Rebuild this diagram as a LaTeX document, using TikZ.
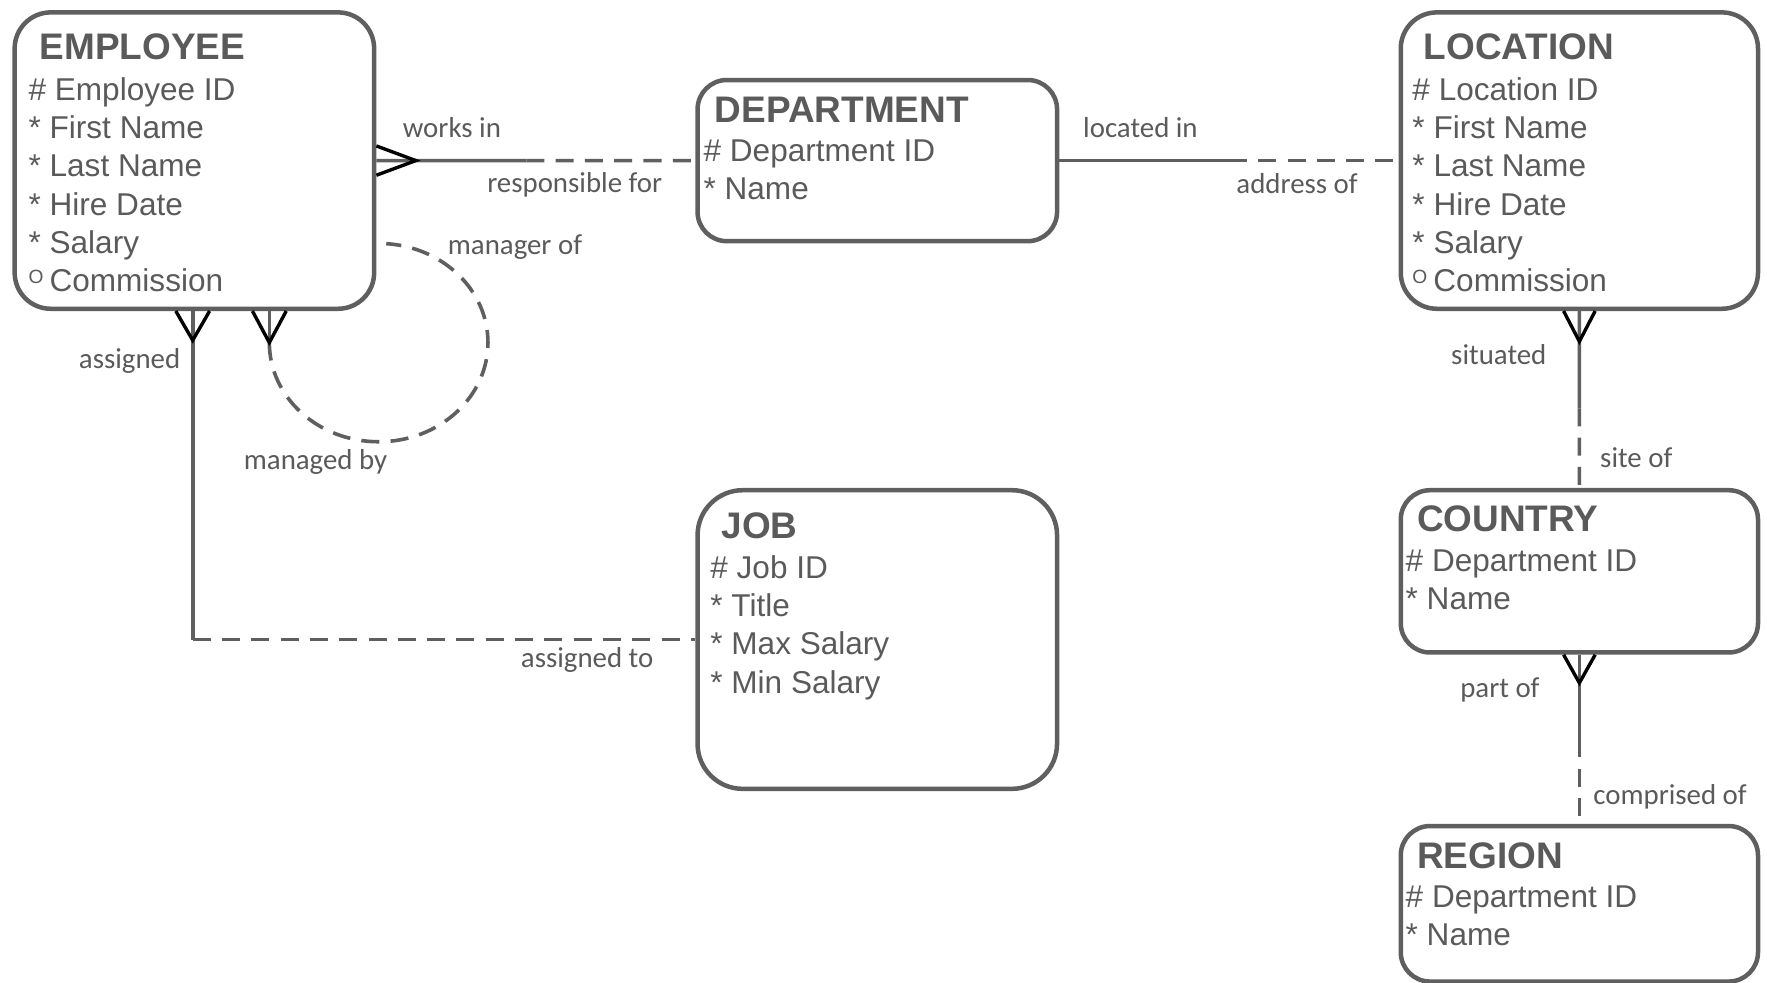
\documentclass[tikz,border=0pt]{standalone}
\usepackage{fontspec}
\setmainfont{Liberation Sans}
\newfontfamily\lblfont{Carlito}
\usepackage{tikz}
\usetikzlibrary{calc}

\definecolor{boxgray}{HTML}{5F5F5F}
\definecolor{txtgray}{HTML}{5A5A5A}
\newcommand{\optmark}{\makebox[9.3pt][l]{\raisebox{3.8pt}{\fontsize{8.5pt}{8.5pt}\selectfont O}}}

\begin{document}
\begin{tikzpicture}[
    x=0.5pt, y=-0.5pt,
    entity/.style={draw=boxgray, line width=2pt, rounded corners=16pt, anchor=north west, inner sep=0pt},
    enttitle/.style={anchor=base west, inner sep=0pt, text=txtgray, font=\fontsize{16.4pt}{19pt}\selectfont\bfseries},
    attrs/.style={anchor=base west, inner sep=0pt, align=left, text=txtgray, font=\fontsize{14pt}{17pt}\selectfont},
    lbl/.style={inner sep=0pt, text=txtgray, font=\lblfont\fontsize{12.8pt}{15pt}\selectfont},
    rel/.style={draw=boxgray, line width=1.6pt},
    reldash/.style={rel, dash pattern=on 8pt off 5pt},
    foot/.style={draw=black, line width=1.5pt}
]
\useasboundingbox (0,0) rectangle (1568,872);

% Entities (attribute nodes sit on the baseline of their last line)
\node[entity, minimum width=159.5pt, minimum height=131.5pt] (emp) at (11,9) {};
\node[enttitle] (emp-title) at (35,53) {EMPLOYEE};
\node[attrs] (emp-attr) at (25,259) {\# Employee ID\\* First Name\\* Last Name\\* Hire Date\\* Salary\\\optmark Commission};

\node[entity, rounded corners=13pt, minimum width=159.5pt, minimum height=71.5pt] (dept) at (617,69) {};
\node[enttitle] (dept-title) at (634,109) {DEPARTMENT};
\node[attrs] (dept-attr) at (624,177) {\# Department ID\\* Name};

\node[entity, minimum width=158.5pt, minimum height=131.5pt] (loc) at (1241,9) {};
\node[enttitle] (loc-title) at (1263,53) {LOCATION};
\node[attrs] (loc-attr) at (1253,259) {\# Location ID\\* First Name\\* Last Name\\* Hire Date\\* Salary\\\optmark Commission};

\node[entity, rounded corners=13pt, minimum width=158.5pt, minimum height=72pt] (country) at (1241,433) {};
\node[enttitle] (country-title) at (1257,472) {COUNTRY};
\node[attrs] (country-attr) at (1247,541) {\# Department ID\\* Name};

\node[entity, rounded corners=13pt, minimum width=158.5pt, minimum height=69pt] (region) at (1241,731) {};
\node[enttitle] (region-title) at (1257,771) {REGION};
\node[attrs] (region-attr) at (1247,839) {\# Department ID\\* Name};

\node[entity, rounded corners=20pt, minimum width=159.5pt, minimum height=132.5pt] (job) at (617,433) {};
\node[enttitle] (job-title) at (640,478) {JOB};
\node[attrs] (job-attr) at (630,615) {\# Job ID\\* Title\\* Max Salary\\* Min Salary};

% Relationships
\coordinate (c1) at ($(emp.east)!0.47!(dept.west)$);
\draw[rel] (emp.east) -- (c1);
\draw[reldash] (c1) -- (dept.west);
\draw[foot] ($(emp.east)+(0,-13)$) -- ($(emp.east)+(35,0)$) -- ($(emp.east)+(0,13)$);

\coordinate (c2) at ($(dept.east)!0.5!(loc.west)$);
\draw[rel] (dept.east) -- (c2);
\draw[reldash] (c2) -- (loc.west);

\coordinate (c3) at ($(loc.south)!0.55!(country.north)$);
\draw[rel] (loc.south) -- (c3);
\draw[reldash] (c3) -- (country.north);
\draw[foot] ($(loc.south)+(-14,0)$) -- ($(loc.south)+(0,27)$) -- ($(loc.south)+(14,0)$);

\coordinate (c4) at ($(country.south)!0.5!(region.north)$);
\draw[rel] (country.south) -- (c4);
\draw[reldash] (c4) -- (region.north);
\draw[foot] ($(country.south)+(-14,0)$) -- ($(country.south)+(0,25)$) -- ($(country.south)+(14,0)$);

\coordinate (a0) at ([xshift=80pt]emp.south west);
\coordinate (a1) at (a0 |- job.west);
\draw[rel] (a0) -- (a1);
\draw[reldash] (a1) -- (job.west);
\draw[foot] ($(a0)+(-15,0)$) -- ($(a0)+(0,26)$) -- ($(a0)+(15,0)$);

\coordinate (m0) at ([xshift=114pt]emp.south west);
\coordinate (m1) at ($(m0)+(0,28)$);
\draw[rel] (m0) -- (m1);
\draw[reldash] (m1) arc[start angle=180, end angle=446, x radius=48.5pt, y radius=44pt];
\draw[foot] ($(m0)+(-15,0)$) -- (m1) -- ($(m0)+(15,0)$);

% Labels
\node[lbl] (l-works) at (401,113) {works in};
\node[lbl] (l-resp) at (510,164) {responsible for};
\node[lbl] (l-mgr) at (457,219) {manager of};
\node[lbl] (l-mgd) at (280,410) {managed by};
\node[lbl] (l-asg) at (115,320) {assigned};
\node[lbl] (l-asgto) at (521,586) {assigned to};
\node[lbl] (l-loc) at (1012,113) {located in};
\node[lbl] (l-addr) at (1151,163) {address of};
\node[lbl] (l-sit) at (1330,315) {situated};
\node[lbl] (l-site) at (1452,406) {site of};
\node[lbl] (l-part) at (1331,612) {part of};
\node[lbl] (l-comp) at (1482,707) {comprised of};

\end{tikzpicture}
\end{document}
